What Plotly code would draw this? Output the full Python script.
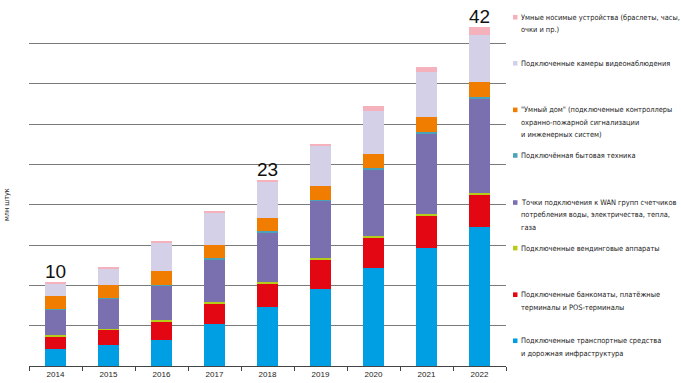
import plotly.graph_objects as go

years = ["2014", "2015", "2016", "2017", "2018", "2019", "2020", "2021", "2022"]

transport = [2.15, 2.6, 3.27, 5.21, 7.28, 9.59, 12.16, 14.64, 17.2]
atm_pos = [1.53, 1.9, 2.19, 2.48, 2.9, 3.56, 3.76, 3.97, 3.97]
vending = [0.2, 0.12, 0.2, 0.2, 0.2, 0.25, 0.21, 0.25, 0.29]
wan_meters = [3.1, 3.8, 4.34, 5.25, 6.16, 7.07, 8.23, 9.97, 11.63]
appliances = [0.05, 0.05, 0.05, 0.25, 0.25, 0.17, 0.21, 0.2, 0.25]
smart_home = [1.65, 1.57, 1.78, 1.57, 1.53, 1.69, 1.73, 1.82, 1.91]
cameras = [1.58, 2.0, 3.43, 4.05, 4.43, 4.97, 5.26, 5.59, 5.74]
wearables = [0.12, 0.12, 0.16, 0.13, 0.25, 0.25, 0.66, 0.66, 1.0]

total_labels = {"2014": "10", "2018": "23", "2022": "42"}

series = [
    ("Подключенные транспортные средства и дорожная инфраструктура", transport, "#009FE3"),
    ("Подключенные банкоматы, платёжные терминалы и POS-терминалы", atm_pos, "#E30613"),
    ("Подключенные вендинговые аппараты", vending, "#B5CC18"),
    ("Точки подключения к WAN групп счетчиков потребления воды, электричества, тепла, газа", wan_meters, "#7A70AF"),
    ("Подключённая бытовая техника", appliances, "#4AA3B8"),
    ("\"Умный дом\"", smart_home, "#F07D00"),
    ("Подключенные камеры видеонаблюдения", cameras, "#D4D0E8"),
    ("Умные носимые устройства", wearables, "#F6B2BC"),
]

legend_entries = [
    (["Умные носимые устройства (браслеты, часы,", "очки и пр.)"], "#F6B2BC", 17.5),
    (["Подключенные камеры видеонаблюдения"], "#D4D0E8", 63.5),
    (["\"Умный дом\" (подключенные контроллеры", "охранно-пожарной сигнализации", "и инженерных систем)"], "#F07D00", 110),
    (["Подключённая бытовая техника"], "#4AA3B8", 155.5),
    (["Точки подключения к WAN групп счетчиков", "потребления воды, электричества, тепла,", "газа"], "#7A70AF", 202.5),
    (["Подключенные вендинговые аппараты"], "#B5CC18", 248),
    (["Подключенные банкоматы, платёжные", "терминалы и POS-терминалы"], "#E30613", 294.5),
    (["Подключенные транспортные средства", "и дорожная инфраструктура"], "#009FE3", 340.5),
]

FONT = "DejaVu Sans Condensed, sans-serif"
W, H = 681, 383
L, R, T, B = 29, 174.5, 3.3, 17.3
PW, PH = W - L - R, H - T - B


def px(x):
    return (x - L) / PW


def py(y):
    return (H - B - y) / PH


fig = go.Figure()
for name, vals, color in series:
    fig.add_trace(go.Bar(x=years, y=vals, name=name, marker=dict(color=color, line=dict(width=0)),
                         showlegend=False, hoverinfo="skip"))

totals = [sum(v) for v in zip(*[s[1] for s in series])]
annotations = []
for i, (yr, tot) in enumerate(zip(years, totals)):
    if yr in total_labels:
        annotations.append(dict(xref="x", yref="y", x=i, y=tot, text=total_labels[yr], showarrow=False,
                                yanchor="bottom", yshift=-2,
                                font=dict(family="Liberation Sans, Arial, sans-serif", size=19, color="#111")))

shapes = []
line_h = 12.3
for lines, color, yc in legend_entries:
    s = 2.3
    shapes.append(dict(type="rect", xref="paper", yref="paper", x0=px(513.5), x1=px(518), y0=py(yc + s), y1=py(yc - s),
                       fillcolor=color, line=dict(width=0)))
    for i, ln in enumerate(lines):
        annotations.append(dict(xref="paper", yref="paper", x=px(519.5), y=py(yc + i * line_h), text=ln, showarrow=False,
                                xanchor="left", yanchor="middle", font=dict(family=FONT, size=7.4, color="#222")))

annotations.append(dict(xref="paper", yref="paper", x=px(6), y=py(205), text="млн штук", textangle=-90, showarrow=False,
                        xanchor="center", yanchor="middle", font=dict(family=FONT, size=7.2, color="#222")))

fig.update_layout(
    width=W, height=H,
    margin=dict(l=L, r=R, t=T, b=B),
    barmode="stack", bargap=0.6,
    plot_bgcolor="white", paper_bgcolor="white",
    annotations=annotations, shapes=shapes,
    xaxis=dict(type="category", showgrid=False, showline=True, linecolor="#444", linewidth=1,
               ticks="outside", tickson="boundaries", ticklen=4, tickcolor="#444",
               tickfont=dict(family="Liberation Sans, Arial, sans-serif", size=8, color="#222"), range=[-0.5, 8.5]),
    yaxis=dict(range=[0, 45], dtick=5, showgrid=True, gridcolor="#7a7a7a", gridwidth=1, showticklabels=False,
               zeroline=False, showline=False),
)

fig.write_html("out.html", config={"displayModeBar": False},
               post_script="document.body.style.margin='0';document.body.style.overflow='hidden';")
